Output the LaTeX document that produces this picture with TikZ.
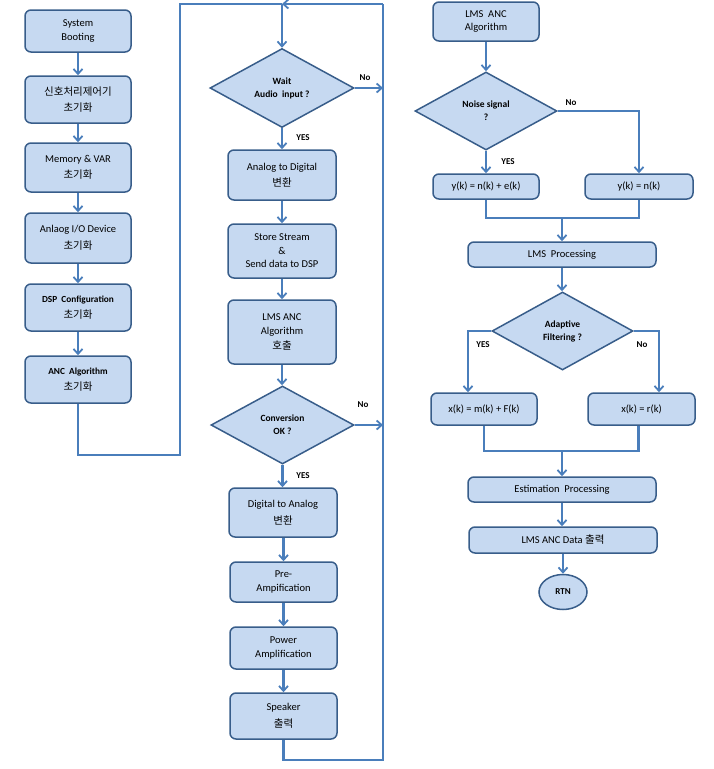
\documentclass[tikz,border=0pt]{standalone}
\usepackage{fontspec}
\setmainfont{Carlito}
\newfontfamily\kr{Noto Sans CJK KR}
\usetikzlibrary{arrows.meta,shapes.geometric}
\definecolor{fillb}{HTML}{C6D9F1}
\definecolor{edgeb}{HTML}{385D8A}
\definecolor{linkb}{HTML}{4A7EBB}
\tikzset{
  box/.style={draw=edgeb, line width=1.5pt, fill=fillb, rounded corners=6pt, align=center,
    inner sep=0pt, font=\fontsize{10.5}{13.5}\selectfont},
  dec/.style={diamond, draw=edgeb, line width=1.5pt, fill=fillb, align=center, inner sep=0pt,
    font=\bfseries\fontsize{9.5}{13}\selectfont},
  term/.style={ellipse, draw=edgeb, line width=1.5pt, fill=fillb, inner sep=0pt,
    font=\bfseries\fontsize{9}{11}\selectfont},
  link/.style={draw=linkb, line width=2.6pt},
  arr/.style={link, -{Straight Barb[length=5pt,width=9pt,line width=1.8pt]}},
  lbl/.style={font=\bfseries\fontsize{9}{10}\selectfont, inner sep=0pt},
}
\newcommand{\ko}[1]{{\kr\fontsize{10.5}{14}\selectfont #1}}
\newcommand{\bt}[1]{{\bfseries\fontsize{9.3}{13}\selectfont #1}}
\begin{document}
\begin{tikzpicture}[x=1pt,y=-1pt]
\useasboundingbox (0,0) rectangle (713,769);
% left column
\node[box, minimum width=106, minimum height=42] (sb) at (78,31) {System\\Booting};
\node[box, minimum width=106, minimum height=47] (sp) at (78,99.5) {\ko{신호처리제어기}\\[3pt]\ko{초기화}};
\node[box, minimum width=106, minimum height=49] (mem) at (78,167.5) {Memory \& VAR\\[3pt]\ko{초기화}};
\node[box, minimum width=106, minimum height=50] (aio) at (78,238) {Anlaog I/O Device\\[3pt]\ko{초기화}};
\node[box, minimum width=106, minimum height=47] (dsp) at (78,307.5) {\bt{DSP~ Configuration}\\[3pt]\ko{초기화}};
\node[box, minimum width=106, minimum height=47] (anc) at (78,379.5) {\bt{ANC~ Algorithm}\\[3pt]\ko{초기화}};
% middle column
\node[dec, minimum width=144, minimum height=79] (wait) at (282,88) {Wait\\Audio~ input ?};
\node[box, minimum width=108, minimum height=50] (a2d) at (282,175) {Analog to Digital\\[3pt]\ko{변환}};
\node[box, minimum width=108, minimum height=54] (store) at (282,251) {Store Stream\\\&\\Send data to DSP};
\node[box, minimum width=108, minimum height=64] (call) at (282,332) {LMS ANC\\Algorithm\\[2pt]\ko{호출}};
\node[dec, minimum width=143, minimum height=78] (conv) at (282.5,425) {Conversion\\OK ?};
\node[box, minimum width=108, minimum height=49] (d2a) at (283,512.5) {Digital to Analog\\[3pt]\ko{변환}};
\node[box, minimum width=107, minimum height=40] (pre) at (283.5,582) {Pre-\\Ampification};
\node[box, minimum width=107, minimum height=42] (pow) at (283.5,648) {Power\\Amplification};
\node[box, minimum width=107, minimum height=46] (spk) at (283.5,716) {Speaker\\[3pt]\ko{출력}};
% right column
\node[box, minimum width=106, minimum height=39] (lms) at (486,21.5) {LMS~ ANC\\Algorithm};
\node[dec, minimum width=142, minimum height=78] (noise) at (486,111) {Noise signal\\?};
\node[box, minimum width=106, minimum height=25] (y1) at (486,186.5) {y(k) = n(k) + e(k)};
\node[box, minimum width=108, minimum height=25] (y2) at (639,186.5) {y(k) = n(k)};
\node[box, minimum width=188, minimum height=25] (lmsp) at (562,254.5) {LMS~ Processing};
\node[dec, minimum width=141, minimum height=78] (adapt) at (562.5,331) {Adaptive\\Filtering ?};
\node[box, minimum width=106, minimum height=32] (x1) at (484,409) {x(k) = m(k) + F(k)};
\node[box, minimum width=107, minimum height=32] (x2) at (641.5,409) {x(k) = r(k)};
\node[box, minimum width=188, minimum height=25] (est) at (562,489.5) {Estimation~ Processing};
\node[box, minimum width=188, minimum height=26] (out) at (563,540) {LMS ANC Data \ko{출력}};
\node[term, minimum width=48, minimum height=35] (rtn) at (563,592) {RTN};
% junction coordinates
\coordinate (top) at (282,4);
\coordinate (la) at (78,455);
\coordinate (lb) at (180,455);
\coordinate (lc) at (180,4);
\coordinate (rb) at (383,4);
\coordinate (sa) at (283.5,760);
\coordinate (sr) at (383,760);
\coordinate (m1) at (562,218);
\coordinate (m2) at (562,451);
% left column arrows
\draw[arr] (sb) -- (sp);
\draw[arr] (sp) -- (mem);
\draw[arr] (mem) -- (aio);
\draw[arr] (aio) -- (dsp);
\draw[arr] (dsp) -- (anc);
\draw[link] (anc.south) -- (la) -- (lb) -- (lc) -- (top);
% middle column
\draw[arr] (top) -- (wait.north);
\draw[arr] (wait) -- (a2d);
\draw[arr] (a2d) -- (store);
\draw[arr] (store) -- (call);
\draw[arr] (call.south) -- (call.south |- conv.north);
\draw[arr] (conv.south) -- (conv.south |- d2a.north);
\draw[arr] (d2a.south -| pre.north) -- (pre);
\draw[arr] (pre) -- (pow);
\draw[arr] (pow) -- (spk);
\draw[link] (spk.south) -- (sa) -- (sr) -- (rb);
\draw[arr] (rb) -- (top);
\draw[arr] (wait.east) -- (wait.east -| rb);
\draw[arr] (conv.east) -- (conv.east -| rb);
\node[lbl] (no1) at (365,78) {No};
\node[lbl] (yes1) at (303,138) {YES};
\node[lbl] (no2) at (363,405) {No};
\node[lbl] (yes2) at (303,476) {YES};
% right column
\draw[arr] (lms) -- (noise);
\draw[arr] (noise) -- (y1);
\draw[arr] (noise.east) -| (y2.north);
\draw[link] (y1.south) |- (m1);
\draw[link] (y2.south) |- (m1);
\draw[arr] (m1) -- (lmsp.north);
\draw[arr] (lmsp) -- (lmsp.south |- adapt.north);
\draw[arr] (adapt.west) -| ([xshift=-16pt]x1.north);
\draw[arr] (adapt.east) -| ([xshift=17.5pt]x2.north);
\draw[link] (x1.south) |- (m2);
\draw[link] ([xshift=-3pt]x2.south) |- (m2);
\draw[arr] (m2) -- (est.north);
\draw[arr] (est.south) -- (est.south |- out.north);
\draw[arr] (out) -- (rtn);
\node[lbl] (no3) at (571,103) {No};
\node[lbl] (yes3) at (508,162) {YES};
\node[lbl] (yes4) at (483,345) {YES};
\node[lbl] (no4) at (642,345) {No};
\end{tikzpicture}
\end{document}
